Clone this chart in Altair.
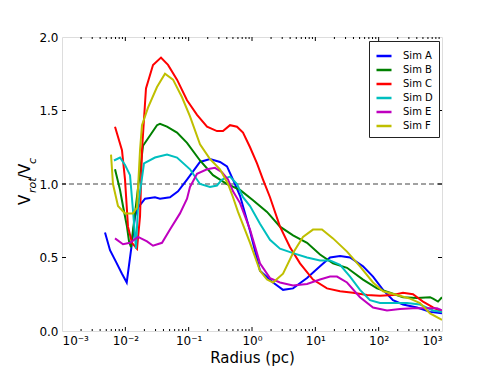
import altair as alt
import pandas as pd

sims = ["Sim A", "Sim B", "Sim C", "Sim D", "Sim E", "Sim F"]
colors = ["#0000ff", "#008000", "#ff0000", "#00bfbf", "#bf00bf", "#bfbf00"]

# log10(radius / pc) and V_rot / V_c
logr_A = [-2.321, -2.242, -2.147, -2.053, -1.978, -1.895, -1.847, -1.800, -1.689, -1.532,
          -1.453, -1.295, -1.168, -1.026, -0.821, -0.663, -0.505, -0.395, -0.300, -0.189,
          -0.031, 0.126, 0.332, 0.490, 0.648, 0.869, 1.074, 1.232, 1.390, 1.548, 1.753,
          1.911, 2.069, 2.226, 2.384, 2.605, 2.811, 3.000]
v_A = [0.67, 0.55, 0.47, 0.39, 0.33, 0.60, 0.78, 0.84, 0.90, 0.91,
       0.90, 0.91, 0.95, 1.03, 1.15, 1.17, 1.15, 1.12, 1.03, 0.92,
       0.68, 0.41, 0.33, 0.28, 0.29, 0.36, 0.44, 0.50, 0.51, 0.50, 0.44,
       0.37, 0.28, 0.21, 0.18, 0.16, 0.13, 0.12]

logr_B = [-2.163, -2.084, -2.037, -1.974, -1.942, -1.910, -1.721, -1.500, -1.453, -1.342,
          -1.184, -1.026, -0.821, -0.616, -0.395, -0.189, 0.016, 0.237, 0.442, 0.648,
          0.869, 1.074, 1.279, 1.500, 1.753, 1.974, 2.179, 2.384, 2.605, 2.811, 2.858,
          2.937, 3.000]
v_B = [1.10, 0.96, 0.85, 0.71, 0.61, 0.57, 1.26, 1.40, 1.41, 1.39,
       1.35, 1.28, 1.16, 1.06, 1.00, 0.96, 0.89, 0.81, 0.71, 0.65,
       0.60, 0.52, 0.46, 0.43, 0.35, 0.29, 0.26, 0.23, 0.225, 0.23, 0.22,
       0.20, 0.23]

logr_C = [-2.163, -2.053, -2.005, -1.958, -1.895, -1.816, -1.768, -1.737, -1.674, -1.563,
          -1.437, -1.326, -1.184, -1.026, -0.868, -0.710, -0.553, -0.458, -0.347, -0.237,
          -0.142, -0.031, 0.079, 0.174, 0.284, 0.442, 0.600, 0.758, 0.963, 1.184, 1.390,
          1.595, 1.816, 2.021, 2.226, 2.384, 2.542, 2.700, 2.858, 3.000]
v_C = [1.39, 1.23, 1.03, 0.71, 0.60, 0.56, 0.78, 1.23, 1.65, 1.81,
       1.86, 1.81, 1.71, 1.57, 1.47, 1.39, 1.36, 1.36, 1.40, 1.39,
       1.35, 1.25, 1.14, 1.03, 0.91, 0.71, 0.57, 0.46, 0.35, 0.29, 0.27,
       0.26, 0.245, 0.24, 0.245, 0.26, 0.25, 0.20, 0.16, 0.13]

logr_D = [-2.179, -2.084, -2.005, -1.926, -1.879, -1.832, -1.800, -1.705, -1.532, -1.342,
          -1.184, -0.979, -0.821, -0.663, -0.553, -0.474, -0.347, -0.237, -0.142, -0.031,
          0.126, 0.284, 0.442, 0.648, 0.869, 1.074, 1.232, 1.390, 1.548, 1.705, 1.863,
          2.021, 2.226, 2.448, 2.653, 2.858, 3.000]
v_D = [1.16, 1.18, 1.13, 1.06, 0.82, 0.56, 0.85, 1.14, 1.18, 1.20,
       1.18, 1.10, 1.00, 0.98, 0.99, 1.03, 1.05, 1.00, 0.91, 0.85,
       0.73, 0.62, 0.56, 0.53, 0.50, 0.48, 0.48, 0.45, 0.37, 0.28, 0.21,
       0.19, 0.19, 0.19, 0.18, 0.14, 0.13]

logr_E = [-2.163, -2.037, -1.926, -1.800, -1.658, -1.563, -1.421, -1.295, -1.137, -1.026,
          -0.979, -0.868, -0.710, -0.584, -0.474, -0.379, -0.300, -0.189, -0.031, 0.126,
          0.284, 0.442, 0.648, 0.869, 1.074, 1.232, 1.342, 1.500, 1.705, 1.911, 2.132,
          2.337, 2.542, 2.763, 2.921, 3.000]
v_E = [0.63, 0.59, 0.60, 0.64, 0.61, 0.58, 0.60, 0.69, 0.80, 0.90,
       0.98, 1.07, 1.10, 1.11, 1.08, 1.03, 0.95, 0.87, 0.69, 0.46,
       0.36, 0.33, 0.31, 0.32, 0.35, 0.37, 0.37, 0.33, 0.23, 0.16, 0.14,
       0.15, 0.155, 0.155, 0.155, 0.14]

logr_F = [-2.226, -2.195, -2.116, -2.005, -1.879, -1.816, -1.768, -1.737, -1.642, -1.500,
          -1.374, -1.247, -1.105, -0.979, -0.821, -0.663, -0.505, -0.379, -0.300, -0.221,
          -0.031, 0.126, 0.237, 0.332, 0.490, 0.648, 0.805, 0.963, 1.105, 1.279, 1.500,
          1.705, 1.911, 2.069, 2.290, 2.495, 2.653, 2.811, 3.000]
v_F = [1.20, 1.00, 0.85, 0.80, 0.80, 0.84, 1.23, 1.40, 1.52, 1.66,
       1.75, 1.71, 1.59, 1.46, 1.27, 1.17, 1.10, 1.00, 0.91, 0.81,
       0.60, 0.41, 0.35, 0.33, 0.39, 0.53, 0.64, 0.69, 0.69, 0.63, 0.54,
       0.44, 0.33, 0.27, 0.245, 0.22, 0.19, 0.12, 0.075]

x_major = [1e-3, 1e-2, 1e-1, 1e0, 1e1, 1e2, 1e3]
x_labels = ["10\u207b\u00b3", "10\u207b\u00b2", "10\u207b\u00b9", "10\u2070",
            "10\u00b9", "10\u00b2", "10\u00b3"]
x_minor = [k * 10.0 ** e for e in range(-3, 3) for k in range(2, 10)]
y_major = [0.0, 0.5, 1.0, 1.5, 2.0]
ref_level = [1.0]
y_title_parts = ["V", "rot", "/V", "c"]

W, H = 380, 294

series = [(logr_A, v_A), (logr_B, v_B), (logr_C, v_C),
          (logr_D, v_D), (logr_E, v_E), (logr_F, v_F)]
rows = []
for name, (lr, vv) in zip(sims, series):
    for a, b in zip(lr, vv):
        rows.append({"sim": name, "r": 10.0 ** a, "v": b})
df = pd.DataFrame(rows)

xscale = alt.Scale(type="log", domain=[1e-3, 1e3], nice=False)
yscale = alt.Scale(domain=[0, 2], nice=False, zero=False)

label_expr = "[" + ",".join("'" + s + "'" for s in x_labels) + "][round(log(datum.value)/LN10)+3]"

xaxis = alt.Axis(values=x_major, labelExpr=label_expr, tickSize=0, domain=False,
                 grid=False, labelPadding=4, labelFontSize=12, labelColor="black",
                 title="Radius (pc)", titleFontSize=15, titleFontWeight="normal",
                 titleColor="black", titlePadding=4, labelFont="DejaVu Sans",
                 titleFont="DejaVu Sans")
yaxis = alt.Axis(values=y_major, format=".1f", tickSize=0, domain=False, grid=False,
                 labelPadding=4, labelFontSize=12, labelColor="black", title=None,
                 labelFont="DejaVu Sans")

lines = alt.Chart(df).mark_line(strokeWidth=2, clip=True).encode(
    x=alt.X("r:Q", scale=xscale, axis=xaxis),
    y=alt.Y("v:Q", scale=yscale, axis=yaxis),
    color=alt.Color("sim:N", scale=alt.Scale(domain=sims, range=colors),
                    legend=alt.Legend(orient="none", legendX=307, legendY=4, title=None,
                                      symbolType="stroke", symbolSize=225, symbolStrokeWidth=2.5,
                                      labelFontSize=10, labelOffset=10, padding=6,
                                      strokeColor="#222", fillColor="white", rowPadding=0,
                                      labelColor="black", labelFont="DejaVu Sans")),
)

dash = alt.Chart(pd.DataFrame({"v": ref_level})).mark_rule(
    color="#444", strokeWidth=1, strokeDash=[5, 3]).encode(
    y=alt.Y("v:Q", scale=yscale, axis=yaxis))

xmaj = pd.DataFrame({"r": x_major[1:-1]})
xmin = pd.DataFrame({"r": x_minor})
ymaj = pd.DataFrame({"v": y_major[1:-1]})

def xt(data, y0, y1):
    return alt.Chart(data).mark_rule(color="black", strokeWidth=1).encode(
        x=alt.X("r:Q", scale=xscale, axis=xaxis), y=alt.value(y0), y2=alt.value(y1))

def yt(data, x0, x1):
    return alt.Chart(data).mark_rule(color="black", strokeWidth=1).encode(
        y=alt.Y("v:Q", scale=yscale, axis=yaxis), x=alt.value(x0), x2=alt.value(x1))

ticks = [xt(xmaj, H, H - 4), xt(xmin, H, H - 2), xt(xmaj, 0, 4), xt(xmin, 0, 2),
         yt(ymaj, 0, 4), yt(ymaj, W, W - 4)]

tpos = [(-32, 168, 15, "normal"), (-26, 156, 11, "italic"),
        (-32, 142, 15, "normal"), (-26, 127, 11, "italic")]
titles = []
for txt, (px, py, fs, st) in zip(y_title_parts, tpos):
    titles.append(alt.Chart(pd.DataFrame({"t": [txt]})).mark_text(
        angle=270, align="left", baseline="alphabetic", fontSize=fs, fontStyle=st,
        color="black", font="DejaVu Sans").encode(text="t:N", x=alt.value(px), y=alt.value(py)))

chart = alt.layer(dash, lines, *ticks, *titles).properties(
    width=W, height=H,
    padding={"left": 54, "top": 29, "right": 40, "bottom": 37},
    autosize=alt.AutoSizeParams(type="none"),
).configure_view(stroke="black", strokeWidth=1).configure(background="white")

chart.save("out.html", embed_options={"renderer": "svg", "actions": False})
